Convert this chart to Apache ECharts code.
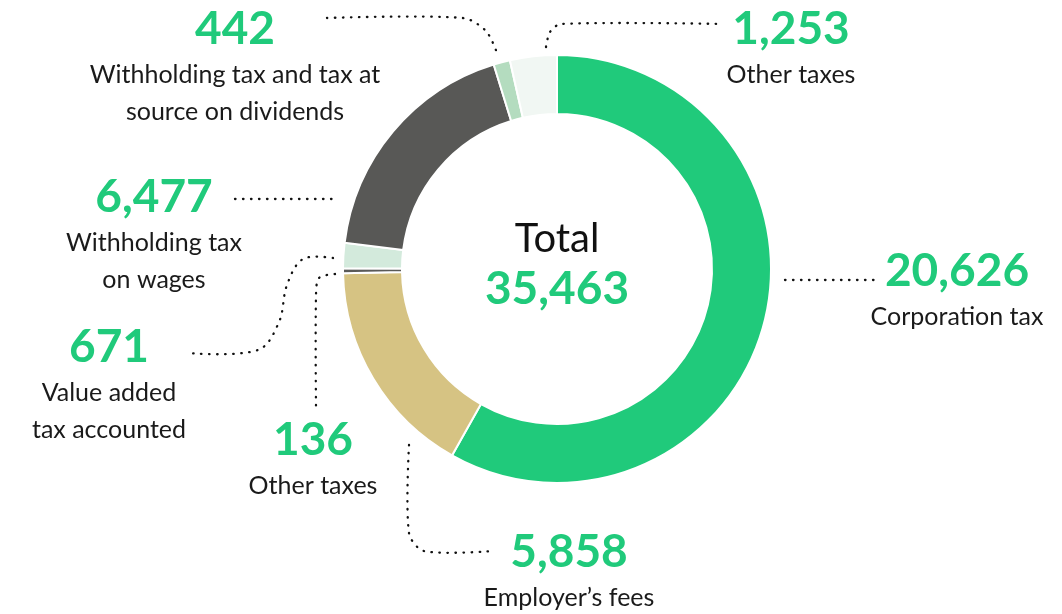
<!DOCTYPE html>
<html lang="en">
  <head>
    <meta charset="utf-8">
    <title>Taxes paid</title>
    <script src="https://cdn.jsdelivr.net/npm/echarts@6/dist/echarts.min.js"></script>
    <style>
      html, body { margin: 0; padding: 0; background: #fff; }
      #main { width: 1062px; height: 614px; }
    </style>
  </head>
  <body>
    <div id="main"></div>
    <script>
      // data, clockwise from 12 o'clock
      var categories = [
        'Corporation tax',
        'Employer\u2019s fees',
        'Other taxes',
        'Value added\ntax accounted',
        'Withholding tax\non wages',
        'Withholding tax and tax at\nsource on dividends',
        'Other taxes'
      ];
      var values = [20626, 5858, 136, 671, 6477, 442, 1253];
      var colors = ['#20ca7b', '#d6c383', '#5a5a58', '#d3eadc', '#585856', '#b4dcbf', '#f1f7f3'];

      var FONT = 'Lato, "Noto Sans", sans-serif';
      var GREEN = '#20ca7b';

      // where each label block sits (centre x, top y) and its dotted leader
      var labelSpots = [
        { x: 957, y: 244, line: [[785, 280], [880, 280]], smooth: 0 },
        { x: 569, y: 525, line: [[409, 445], [409, 533], [424, 551], [493, 551]], smooth: 0.3 },
        { x: 313, y: 413, line: [[335, 274], [319, 278], [316, 296], [316, 407]], smooth: 0.3 },
        { x: 109, y: 320, line: [[333, 258], [303, 259], [287, 285], [279, 322], [258, 350], [188, 353]], smooth: 0.35 },
        { x: 154, y: 170, line: [[235, 199], [333, 199]], smooth: 0 },
        { x: 235, y: 2, line: [[327, 18], [463, 18], [486, 31], [497, 53]], smooth: 0.3 },
        { x: 791, y: 2, line: [[546, 47], [550, 32], [561, 24], [722, 24]], smooth: 0.3 }
      ];

      function fmt(v) { return v.toLocaleString('en-US'); }

      var total = values.reduce(function (a, b) { return a + b; }, 0);

      var pieData = values.map(function (v, i) {
        return { name: categories[i], value: v, itemStyle: { color: colors[i] } };
      });

      // dotted leaders drawn as plain polylines
      var leaders = labelSpots.map(function (s) {
        return {
          type: 'polyline',
          silent: true,
          shape: { points: s.line, smooth: s.smooth },
          style: { fill: null, stroke: '#111', lineWidth: 2.3, lineDash: [0.5, 7.5], lineCap: 'round' }
        };
      });

      var myChart = echarts.init(document.getElementById('main'));

      var option = {
        animation: false,
        backgroundColor: '#fff',
        title: {
          text: '{t|Total}\n{v|' + fmt(total) + '}',
          left: 552,
          top: 209,
          textAlign: 'center',
          textStyle: {
            rich: {
              t: { fontFamily: FONT, fontSize: 40, fontWeight: 'normal', color: '#111', lineHeight: 50, align: 'center' },
              v: { fontFamily: FONT, fontSize: 46, fontWeight: 'bold', color: GREEN, lineHeight: 50, align: 'center' }
            }
          }
        },
        graphic: leaders,
        series: [{
          type: 'pie',
          center: [557, 269],
          radius: [155, 214],
          startAngle: 90,
          clockwise: true,
          avoidLabelOverlap: false,
          emphasis: { disabled: true },
          itemStyle: { borderColor: '#fff', borderWidth: 2 },
          label: {
            show: true,
            formatter: function (p) {
              return '{v|' + fmt(p.value) + '}\n{n|' + p.name.split('\n').join('}\n{n|') + '}';
            },
            rich: {
              v: { fontFamily: FONT, fontSize: 46, fontWeight: 'bold', color: GREEN, lineHeight: 54, align: 'center' },
              n: { fontFamily: FONT, fontSize: 25, color: '#1a1a1a', lineHeight: 37, align: 'center' }
            }
          },
          labelLine: { show: false },
          labelLayout: function (params) {
            var s = labelSpots[params.dataIndex];
            return { x: s.x, y: s.y, align: 'center', verticalAlign: 'top' };
          },
          data: pieData
        }]
      };

      myChart.setOption(option);
    </script>
  </body>
</html>
